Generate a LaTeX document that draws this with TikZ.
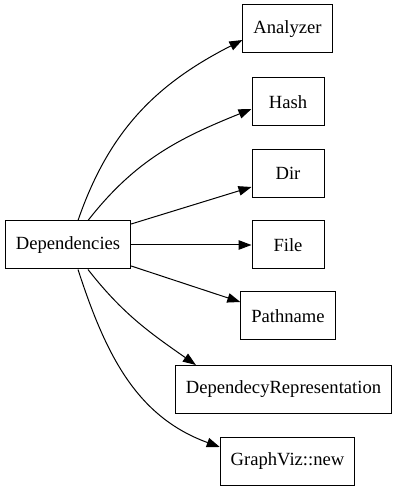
\documentclass[tikz,border=0pt]{standalone}
\usepackage{fontspec}
\setmainfont{Liberation Serif}
\usetikzlibrary{arrows.meta}

\begin{document}
\begin{tikzpicture}[x=1pt,y=1pt,
  box/.style={draw,line width=1pt,minimum width=72pt,minimum height=48pt,inner xsep=10.5pt,font=\fontsize{18.6}{22}\selectfont},
  arr/.style={line width=1pt,-{Triangle[length=13pt,width=9.5pt]}}]

  \useasboundingbox (0,0) rectangle (402,491);

  \node[box] (deps) at (68,246) {Dependencies};

  \node[box] (analyzer) at (287.5,462) {Analyzer};
  \node[box] (hash) at (288,389) {Hash};
  \node[box] (dir) at (288,317.5) {Dir};
  \node[box] (file) at (288,246) {File};
  \node[box] (pathname) at (288,175) {Pathname};
  \node[box] (deprep) at (283.5,101.5) {DependecyRepresentation};
  \node[box] (gvnew) at (287.5,29.5) {GraphViz::new};

  % curved ones go out of top/bottom, straight ones out of the right side
  \draw[arr] ([xshift=10pt]deps.north) to[out=71,in=207] ([yshift=-11pt]analyzer.west);
  \draw[arr] ([xshift=20pt]deps.north) to[out=52,in=202] ([yshift=-7pt]hash.west);
  \draw[arr] ([yshift=21pt]deps.east) -- ([yshift=-13.5pt]dir.west);
  \draw[arr] (deps.east) -- (file.west);
  \draw[arr] ([yshift=-21pt]deps.east) -- ([yshift=14pt]pathname.west);
  \draw[arr] ([xshift=20pt]deps.south) to[out=-52,in=145] ([xshift=21pt]deprep.north west);
  \draw[arr] ([xshift=10pt]deps.south) to[out=-72,in=160] ([yshift=14.5pt]gvnew.west);

\end{tikzpicture}
\end{document}
